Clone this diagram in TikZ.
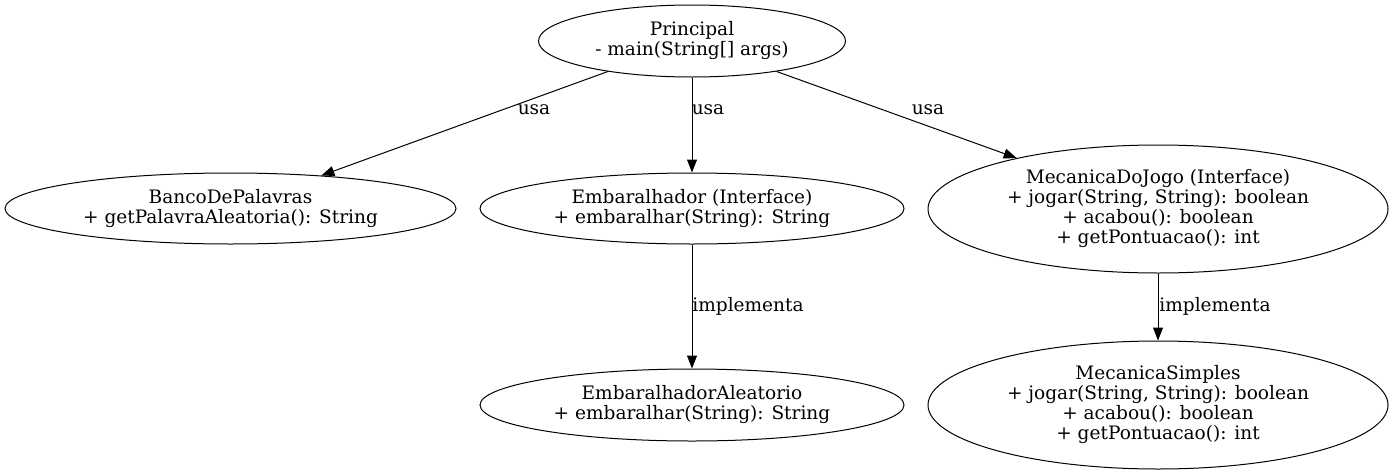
\documentclass[tikz,border=0pt]{standalone}
\usepackage{fontspec}
\setmainfont{DejaVu Serif}
\usetikzlibrary{shapes.geometric,arrows.meta}
\begin{document}
\begin{tikzpicture}[x=0.75pt,y=-0.75pt,
  cls/.style={draw,ellipse,inner sep=0pt,align=center,line width=0.75pt,
    font=\fontsize{13.9pt}{15pt}\selectfont},
  rel/.style={-{Triangle[length=9.75pt,width=7.5pt]},line width=0.75pt},
  lbl/.style={font=\fontsize{13.9pt}{15pt}\selectfont,inner sep=0pt}]
\useasboundingbox (0,0) rectangle (1394,475);
\node[cls,minimum width=307*0.75pt,minimum height=72*0.75pt] (p) at (692,41)
  {Principal\\- main(String[] args)};
\node[cls,minimum width=451*0.75pt,minimum height=71*0.75pt] (b) at (230.5,208.5)
  {BancoDePalavras\\+ getPalavraAleatoria(): String};
\node[cls,minimum width=424*0.75pt,minimum height=71*0.75pt] (e) at (692,208.5)
  {Embaralhador (Interface)\\+ embaralhar(String): String};
\node[cls,minimum width=460*0.75pt,minimum height=128*0.75pt] (m) at (1158,209)
  {MecanicaDoJogo (Interface)\\+ jogar(String, String): boolean\\+ acabou(): boolean\\+ getPontuacao(): int};
\node[cls,minimum width=424*0.75pt,minimum height=72*0.75pt] (ea) at (692,405)
  {EmbaralhadorAleatorio\\+ embaralhar(String): String};
\node[cls,minimum width=460*0.75pt,minimum height=128*0.75pt] (ms) at (1158,405)
  {MecanicaSimples\\+ jogar(String, String): boolean\\+ acabou(): boolean\\+ getPontuacao(): int};
\draw[rel] (p) -- (b);
\draw[rel] (p) -- (e);
\draw[rel] (p) -- (m);
\draw[rel] (e) -- (ea);
\draw[rel] (m) -- (ms);
\node[lbl] (l1) at (534,110) {usa};
\node[lbl] (l2) at (708,110) {usa};
\node[lbl] (l3) at (928,110) {usa};
\node[lbl] (l4) at (748,306) {implementa};
\node[lbl] (l5) at (1215,306) {implementa};
\end{tikzpicture}
\end{document}
